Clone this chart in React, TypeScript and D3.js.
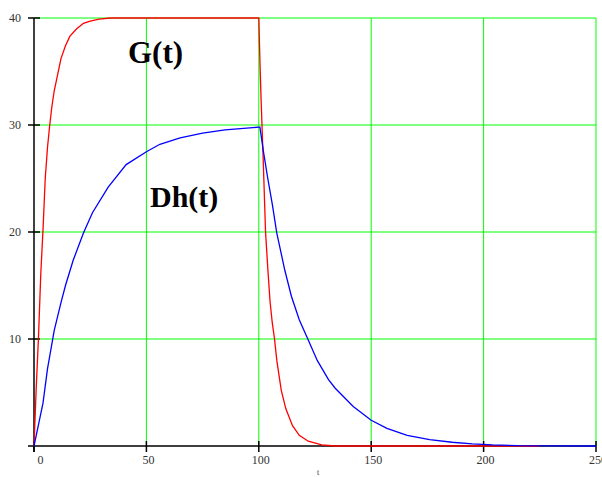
import React, { useEffect, useRef } from "react";
import * as d3 from "d3";

// G(t) samples
const tG = [0, 1, 2, 3, 4, 5, 6, 7, 8, 9, 10, 12, 14, 16, 19, 22, 25, 29, 34, 100, 100.5, 101, 102, 103, 104, 105, 106, 107, 108, 110, 112, 115, 118, 122, 128, 134, 225];
const G = [0, 5.5, 10.2, 16, 20.2, 25, 27.9, 30, 31.8, 33.2, 34.2, 36.2, 37.4, 38.3, 39.0, 39.5, 39.7, 39.9, 40, 40, 36, 32.5, 26.5, 20, 16.6, 13.5, 11.5, 10, 8, 5.2, 3.5, 1.9, 1.0, 0.45, 0.1, 0, 0];

// Dh(t) samples
const tD = [0, 2, 4, 6, 9, 12, 14, 17.5, 22, 26, 33, 41, 50, 56, 65, 75, 85, 100, 100.5, 102, 104, 106, 108, 111.6, 114.5, 118, 122, 126, 131, 134, 142, 150, 157, 166, 176, 186, 195, 204, 215, 250];
const D = [0, 2.0, 4.0, 7.2, 10.8, 13.4, 15.0, 17.4, 19.9, 21.8, 24.2, 26.3, 27.5, 28.2, 28.8, 29.25, 29.55, 29.8, 29.8, 27.6, 25.0, 22.6, 19.9, 16.4, 14.0, 11.8, 9.9, 8.0, 6.2, 5.4, 3.7, 2.4, 1.65, 1.0, 0.6, 0.35, 0.2, 0.1, 0.03, 0];

const xTicks = [0, 50, 100, 150, 200, 250];
const yTicks = [10, 20, 30, 40];

const W = 602;
const H = 477;
const font = "'Liberation Serif', 'Times New Roman', serif";

function Chart() {
  const ref = useRef<SVGSVGElement>(null);

  useEffect(() => {
    const svg = d3.select(ref.current);
    svg.selectAll("*").remove();

    const x = d3.scaleLinear().domain([0, 250]).range([34, 596]);
    const y = d3.scaleLinear().domain([0, 40]).range([446, 18]);

    // grid
    svg.append("g")
      .selectAll("line")
      .data(xTicks.slice(1))
      .enter()
      .append("line")
      .attr("x1", d => x(d)).attr("x2", d => x(d))
      .attr("y1", y(40)).attr("y2", y(0))
      .attr("stroke", "#00ff00").attr("stroke-width", 1);
    svg.append("g")
      .selectAll("line")
      .data(yTicks)
      .enter()
      .append("line")
      .attr("x1", x(0)).attr("x2", x(250))
      .attr("y1", d => y(d)).attr("y2", d => y(d))
      .attr("stroke", "#00ff00").attr("stroke-width", 1);

    // axes
    const ax = svg.append("g").attr("stroke", "#000").attr("stroke-width", 1.5);
    ax.append("line").attr("x1", 28).attr("x2", x(250)).attr("y1", y(0)).attr("y2", y(0));
    ax.append("line").attr("x1", x(0)).attr("x2", x(0)).attr("y1", y(40)).attr("y2", y(0) + 6);
    ax.selectAll(".yt").data(yTicks).enter().append("line")
      .attr("x1", x(0) - 6).attr("x2", x(0) + 6)
      .attr("y1", d => y(d)).attr("y2", d => y(d));
    ax.selectAll(".xt").data(xTicks).enter().append("line")
      .attr("x1", d => x(d)).attr("x2", d => x(d))
      .attr("y1", y(0) - 5).attr("y2", y(0) + 6);

    // tick labels
    svg.append("g")
      .selectAll("text")
      .data(yTicks)
      .enter()
      .append("text")
      .attr("x", 21)
      .attr("y", d => y(d) + 4)
      .attr("text-anchor", "end")
      .attr("font-family", font)
      .attr("font-size", 12)
      .attr("fill", "#333")
      .text(d => d);
    svg.append("g")
      .selectAll("text")
      .data(xTicks)
      .enter()
      .append("text")
      .attr("x", d => x(d) + (d === 0 ? 6.5 : 2))
      .attr("y", 464)
      .attr("text-anchor", "middle")
      .attr("font-family", font)
      .attr("font-size", 12)
      .attr("fill", "#333")
      .text(d => d);
    svg.append("text")
      .attr("x", 318).attr("y", 475)
      .attr("text-anchor", "middle")
      .attr("font-family", font)
      .attr("font-size", 8)
      .attr("fill", "#333")
      .text("t");

    // curves
    const line = d3.line<number>()
      .x(d => x(d[0]))
      .y(d => y(d[1]));
    svg.append("path")
      .attr("d", line(tG.map((t, i) => [t, G[i]]) as any))
      .attr("fill", "none").attr("stroke", "#ff0000").attr("stroke-width", 1.3);
    svg.append("path")
      .attr("d", line(tD.map((t, i) => [t, D[i]]) as any))
      .attr("fill", "none").attr("stroke", "#0000ff").attr("stroke-width", 1.3);

    // curve labels
    svg.append("text")
      .attr("x", 128).attr("y", 63)
      .attr("font-family", font).attr("font-weight", "bold").attr("font-size", 31)
      .text("G(t)");
    svg.append("text")
      .attr("x", 150).attr("y", 207)
      .attr("font-family", font).attr("font-weight", "bold").attr("font-size", 30)
      .text("Dh(t)");
  }, []);

  return (
    <svg
      ref={ref}
      width={W}
      height={H}
      style={{ position: "absolute", left: 0, top: 0, background: "#fff" }}
    />
  );
}

export default function App() {
  return <Chart />;
}
